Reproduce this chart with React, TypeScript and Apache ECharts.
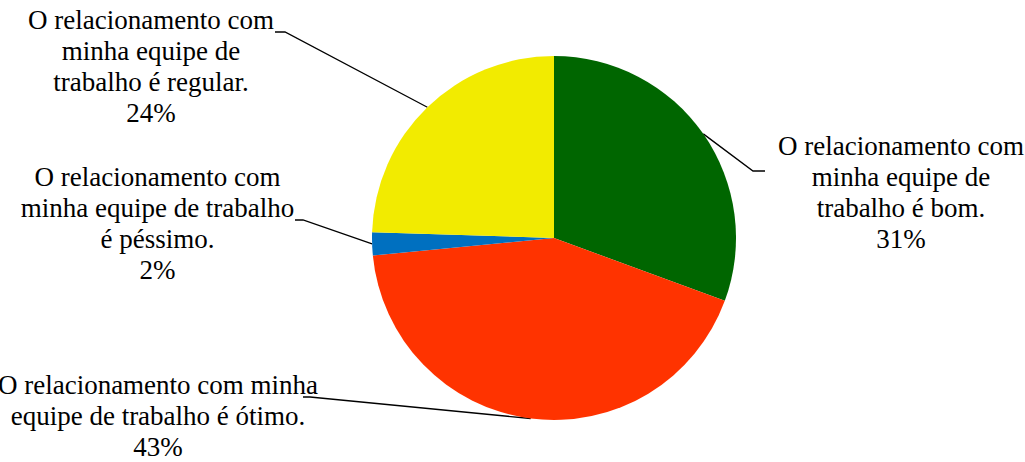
import { useEffect, useRef } from 'react';
import * as echarts from 'echarts';

// Slice order: clockwise from 12 o'clock
const categories = [
  'O relacionamento com\nminha equipe de\ntrabalho é bom.',
  'O relacionamento com minha\nequipe de trabalho é ótimo.',
  'O relacionamento com\nminha equipe de trabalho\né péssimo.',
  'O relacionamento com\nminha equipe de\ntrabalho é regular.',
];
const counts = [15, 21, 1, 12];
const colors = ['#006600', '#FF3300', '#0070C0', '#F2EB00'];

// Layout of the labels (pixel centre of each text block) and the leader line bend/end points
const labelCenters: number[][] = [
  [901, 192],
  [158, 415.5],
  [157.5, 223.5],
  [151, 66.5],
];
const leaderBends: number[][] = [
  [753, 171],
  [310, 397],
  [303, 220],
  [285, 32],
];
const leaderEnds: number[][] = [
  [765, 171],
  [303, 397],
  [295, 220],
  [275, 32],
];

const LINE_H = 31;
const FONT = '27px "Liberation Serif"';

export default function App() {
  const ref = useRef<HTMLDivElement>(null);
  useEffect(() => {
    document.body.style.margin = '0';
    if (!ref.current) return;
    const chart = echarts.init(ref.current, null, { renderer: 'svg' });

    const total = counts.reduce((a, b) => a + b, 0);
    const labelTexts: any[] = [];
    categories.forEach((name, i) => {
      const lines = name.split('\n').concat([`${Math.round((counts[i] / total) * 100)}%`]);
      const n = lines.length;
      lines.forEach((line, k) => {
        labelTexts.push({
          type: 'text',
          silent: true,
          x: labelCenters[i][0],
          y: labelCenters[i][1] + (k - (n - 1) / 2) * LINE_H,
          style: {
            text: line,
            font: FONT,
            fill: '#000000',
            align: 'center',
            verticalAlign: 'middle',
          },
        });
      });
    });

    chart.setOption({
      animation: false,
      backgroundColor: '#ffffff',
      graphic: labelTexts,
      series: [
        {
          type: 'pie',
          center: [554, 238],
          radius: 182,
          startAngle: 90,
          avoidLabelOverlap: false,
          data: categories.map((name, i) => ({
            name,
            value: counts[i],
            itemStyle: { color: colors[i] },
          })),
          itemStyle: { borderWidth: 0 },
          label: {
            show: true,
            fontSize: 10,
            color: 'rgba(0,0,0,0)',
            formatter: () => '\u00a0',
          },
          labelLine: {
            show: true,
            smooth: false,
            lineStyle: { color: '#000000', width: 1.3 },
          },
          labelLayout: (params: any) => {
            const i = params.dataIndex;
            const p0 = params.labelLinePoints ? params.labelLinePoints[0] : leaderBends[i];
            return {
              x: leaderEnds[i][0],
              y: leaderEnds[i][1],
              labelLinePoints: [p0, leaderBends[i], leaderEnds[i]],
            };
          },
        },
      ],
    });
    return () => chart.dispose();
  }, []);
  return <div ref={ref} style={{ width: 1025, height: 462 }} />;
}
